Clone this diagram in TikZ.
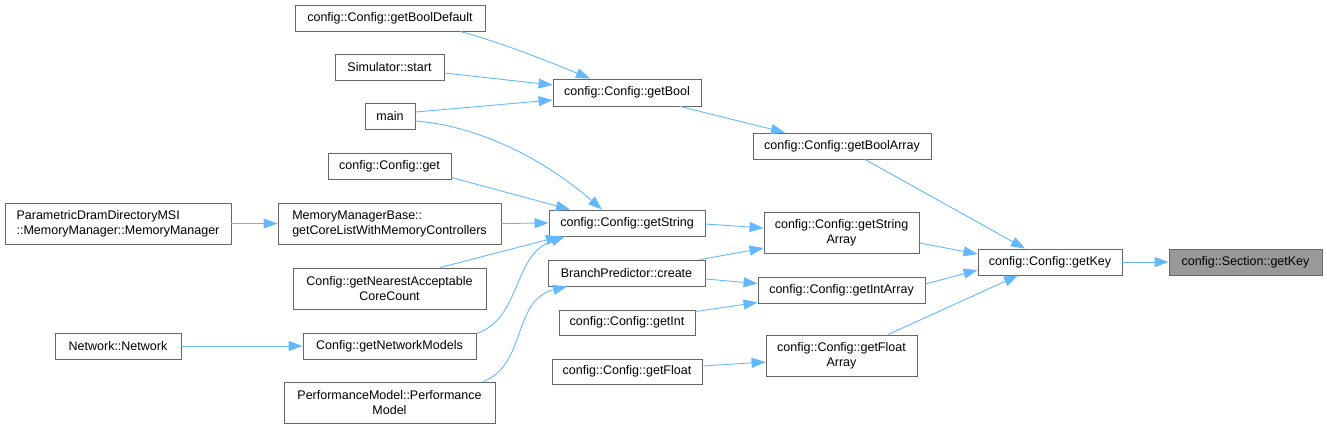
\documentclass[tikz,border=0pt]{standalone}
\usepackage{fontspec}
\setmainfont{Liberation Sans}
\usetikzlibrary{arrows.meta}
\definecolor{edgec}{HTML}{63B8FF}
\definecolor{boxc}{HTML}{666666}
\definecolor{hilite}{HTML}{999999}
\tikzset{
  fn/.style={draw=boxc, line width=0.9pt, fill=white, inner sep=0pt, minimum height=26pt,
    font=\fontsize{12.5}{15}\selectfont, align=center, text=black},
  fnl/.style={fn, align=left},
  cur/.style={fn, fill=hilite},
  call/.style={draw=edgec, line width=0.9pt, -{Triangle[length=14pt,width=10pt]}},
}
\begin{document}
\begin{tikzpicture}[x=1pt,y=-1pt]
\useasboundingbox (0,0) rectangle (1327,429);
% column 1
\node[fnl, minimum width=226pt, minimum height=41pt] (pdm) at (118,223.5) {ParametricDramDirectoryMSI\\::MemoryManager::MemoryManager};
\node[fn, minimum width=126pt] (net) at (118,346) {Network::Network};
% column 2
\node[fn, minimum width=190pt] (bd) at (390,18) {config::Config::getBoolDefault};
\node[fn, minimum width=109pt] (sim) at (389.5,67) {Simulator::start};
\node[fn, minimum width=50pt] (main) at (390,116) {main};
\node[fn, minimum width=123pt] (get) at (389.5,166) {config::Config::get};
\node[fnl, minimum width=223pt, minimum height=41pt] (mmb) at (389.5,223.5) {MemoryManagerBase::\\getCoreListWithMemoryControllers};
\node[fn, minimum width=193pt, minimum height=41pt] (gna) at (389.5,288.5) {Config::getNearestAcceptable\\CoreCount};
\node[fn, minimum width=173pt] (gnm) at (389.5,346) {Config::getNetworkModels};
\node[fn, minimum width=211pt, minimum height=41pt] (pm) at (389.5,402.5) {PerformanceModel::Performance\\Model};
% column 3
\node[fn, minimum width=148pt, minimum height=27pt] (gb) at (627,92.5) {config::Config::getBool};
\node[fn, minimum width=156pt] (gs) at (627,223) {config::Config::getString};
\node[fn, minimum width=157pt] (bp) at (626.5,273) {BranchPredictor::create};
\node[fn, minimum width=136pt, minimum height=25pt] (gi) at (627,322.5) {config::Config::getInt};
\node[fn, minimum width=150pt, minimum height=25pt] (gf) at (627,371.5) {config::Config::getFloat};
% column 4
\node[fn, minimum width=178pt] (gba) at (842,146) {config::Config::getBoolArray};
\node[fn, minimum width=155pt, minimum height=41pt] (gsa) at (841.5,232.5) {config::Config::getString\\Array};
\node[fn, minimum width=167pt] (gia) at (841.5,290) {config::Config::getIntArray};
\node[fn, minimum width=151pt, minimum height=41pt] (gfa) at (841.5,355.5) {config::Config::getFloat\\Array};
% column 5, 6
\node[fn, minimum width=144pt] (gk) at (1050,262) {config::Config::getKey};
\node[cur, minimum width=153pt] (sk) at (1245.5,262) {config::Section::getKey};
% edges
\draw[call] ([xshift=70pt]bd.south) .. controls (500,42) and (550,62) .. ([xshift=-37pt]gb.north);
\draw[call] ([yshift=-6pt]sim.east) -- ([yshift=7.5pt]gb.west);
\draw[call] ([yshift=4pt]main.east) -- ([yshift=-7.5pt]gb.west);
\draw[call] ([yshift=-5pt]main.east) .. controls (480,126) and (545,160) .. ([xshift=-25pt]gs.north);
\draw[call] ([yshift=2pt]get.south east) -- ([xshift=-57pt]gs.north);
\draw[call] (pdm.east) -- (mmb.west);
\draw[call] (mmb.east) -- (gs.west);
\draw[call] ([xshift=50.5pt]gna.north) -- ([xshift=-67pt]gs.south);
\draw[call] ([yshift=-1pt]gnm.north east) .. controls (522,318) and (512,255) .. ([xshift=-62pt]gs.south);
\draw[call] (net.east) -- (gnm.west);
\draw[call] ([xshift=93.5pt]pm.north) .. controls (527,365) and (512,300) .. ([xshift=-59.5pt]bp.south);
\draw[call] ([yshift=-1pt]gs.east) -- ([yshift=4.5pt]gsa.west);
\draw[call] ([xshift=-5pt]bp.north east) -- ([yshift=-15.5pt]gsa.west);
\draw[call] ([yshift=-6pt]bp.east) -- ([yshift=6.5pt]gia.west);
\draw[call] ([yshift=-2pt]gi.north east) -- ([yshift=1pt]gia.south west);
\draw[call] ([yshift=5.5pt]gf.east) -- ([yshift=-6.5pt]gfa.west);
\draw[call] ([xshift=53pt]gb.south) -- ([xshift=-57pt]gba.north);
\draw[call] ([xshift=23pt]gba.south) -- ([xshift=-25pt]gk.north);
\draw[call] ([yshift=-10.5pt]gsa.east) -- ([yshift=8pt]gk.west);
\draw[call] ([yshift=6pt]gia.east) -- ([yshift=-8pt]gk.west);
\draw[call] ([xshift=46.5pt]gfa.north) -- ([xshift=-32pt]gk.south);
\draw[call] (gk.east) -- (sk.west);
\end{tikzpicture}
\end{document}
